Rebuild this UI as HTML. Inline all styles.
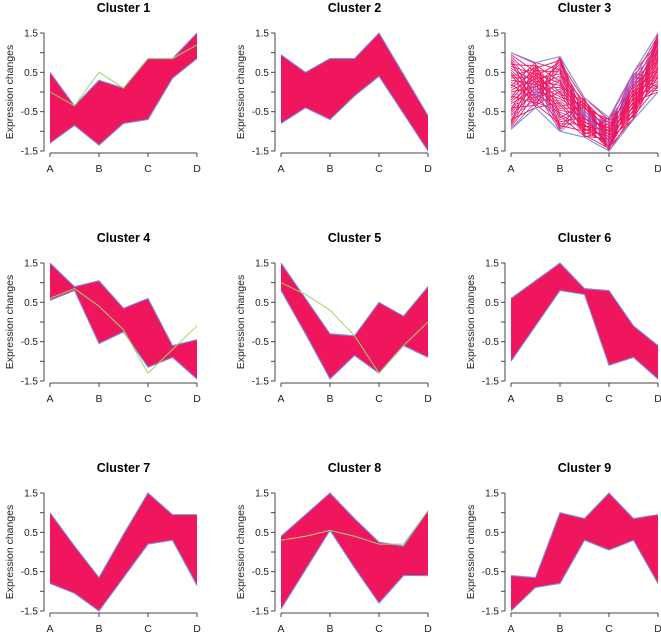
<!DOCTYPE html>
<html><head><meta charset="utf-8"><style>
html,body{margin:0;padding:0;background:#fff;}
svg{display:block;font-family:"Liberation Sans",sans-serif;}
</style></head><body>
<svg id="chart" width="661" height="635" viewBox="0 0 661 635"></svg>
<script>
const clusterNames=["Cluster 1","Cluster 2","Cluster 3","Cluster 4","Cluster 5","Cluster 6","Cluster 7","Cluster 8","Cluster 9"];
const categories=["A","B","C","D"];
const yTicks=[-1.5,-1,-0.5,0,0.5,1,1.5];
const yTickLabels=["-1.5","","-0.5","","0.5","","1.5"];
// envelopes at 7 positions (A, A-B, B, B-C, C, C-D, D)
const upper=[
[0.5,-0.35,0.3,0.1,0.85,0.85,1.5],
[0.95,0.5,0.85,0.85,1.5,0.45,-0.6],
[1.0,0.75,0.9,-0.15,-0.65,0.5,1.5],
[1.5,0.9,1.05,0.35,0.6,-0.6,-0.45],
[1.5,0.6,-0.3,-0.35,0.5,0.15,0.9],
[0.6,1.05,1.5,0.85,0.8,-0.1,-0.6],
[1.0,0.15,-0.65,0.45,1.5,0.95,0.95],
[0.4,0.95,1.5,0.85,0.25,0.15,1.05],
[-0.6,-0.65,1.0,0.85,1.5,0.85,0.95]];
const lower=[
[-1.3,-0.85,-1.35,-0.8,-0.7,0.35,0.85],
[-0.8,-0.4,-0.7,-0.1,0.4,-0.55,-1.5],
[-0.95,-0.4,-1.0,-1.15,-1.5,-0.7,0.0],
[0.55,0.8,-0.55,-0.25,-1.15,-0.9,-1.45],
[0.8,-0.3,-1.45,-0.85,-1.3,-0.6,-0.9],
[-1.0,-0.1,0.8,0.7,-1.1,-0.9,-1.45],
[-0.8,-1.05,-1.5,-0.65,0.2,0.3,-0.85],
[-1.45,-0.45,0.55,-0.4,-1.3,-0.6,-0.6],
[-1.5,-0.9,-0.8,0.3,0.05,0.3,-0.8]];
const outlierCluster=[0,3,4,7];
const outlierValues=[
[0.0,-0.35,0.5,0.1,0.85,0.85,1.2],
[0.6,0.85,0.4,-0.2,-1.3,-0.7,-0.1],
[1.0,0.7,0.3,-0.35,-1.3,-0.6,0.0],
[0.3,0.4,0.55,0.4,0.2,0.2,1.05]];

const svg=document.getElementById('chart');
const NS="http://www.w3.org/2000/svg";
function mk(t,a,p){const e=document.createElementNS(NS,t);for(const k in a)e.setAttribute(k,a[k]);(p||svg).appendChild(e);return e;}
const colX0=[50,281,511], W=147, rowY0=[33,263,493], H=118;
for(let c=0;c<9;c++){
  const col=c%3,row=Math.floor(c/3);
  const x0=colX0[col],yTop=rowY0[row];
  const g=mk('g',{});
  
  
  const xs=i=>x0+i*W/6;
  const ys=v=>yTop+(1.5-v)/3*H;
  const t=mk('text',{x:x0+W/2,y:yTop-21,'text-anchor':'middle','font-size':'12.5','font-weight':'bold',fill:'#000'},g);
  t.textContent=clusterNames[c];
  
  
  // axes
  const ax=x0-6;
  const ya=mk('line',{x1:ax,y1:ys(1.5),x2:ax,y2:ys(-1.5),stroke:'#444','stroke-width':1},g);
  
  
  yTicks.forEach((v,i)=>{
    mk('line',{x1:ax-4,y1:ys(v),x2:ax,y2:ys(v),stroke:'#444'},g);
    if(yTickLabels[i]){const l=mk('text',{x:ax-6,y:ys(v)+3.5,'text-anchor':'end','font-size':'10',fill:'#222'},g);l.textContent=yTickLabels[i];
      
      }
  });
  const yt=mk('text',{transform:`translate(${x0-37},${yTop+H/2}) rotate(-90)`,'text-anchor':'middle','font-size':'10.5',fill:'#222'},g);
  yt.textContent='Expression changes';
  
  
  const xb=ys(-1.5)+2;
  const xa=mk('line',{x1:x0,y1:xb,x2:x0+W,y2:xb,stroke:'#444'},g);
  
  
  categories.forEach((cat,i)=>{
    mk('line',{x1:xs(i*2),y1:xb,x2:xs(i*2),y2:xb+4,stroke:'#444'},g);
    const l=mk('text',{x:xs(i*2),y:xb+19,'text-anchor':'middle','font-size':'10.5',fill:'#222'},g);
    l.textContent=cat;
    
    
  });
  const U=upper[c],L=lower[c];
  if(c!==2){
    let d='';
    U.forEach((v,i)=>d+=(i?'L':'M')+xs(i)+','+ys(v));
    for(let i=6;i>=0;i--)d+='L'+xs(i)+','+ys(L[i]);
    const band=mk('path',{d:d+'Z',fill:'#f0165e',stroke:'none'},g);
    
    
  } else {
    for(let k=0;k<40;k++){
      const pts=U.map((v,i)=>{const f=((k*(i%2?7:(i===4?3:1))+i*5)%40)/39;return xs(i)+','+ys(L[i]+f*(v-L[i]));});
      const pl=mk('polyline',{points:pts.join(' '),fill:'none',stroke:k%6===0?'#9a5fd0':'#f0165e','stroke-width':0.9},g);
      
      
    }
  }
  [[U,'#7b8fe0'],[L,'#7b8fe0']].forEach(([arr,col2])=>{
    const pl=mk('polyline',{points:arr.map((v,i)=>xs(i)+','+ys(v)).join(' '),fill:'none',stroke:col2,'stroke-width':1.1},g);
    
    
  });
  const oi=outlierCluster.indexOf(c);
  if(oi>=0){
    const pl=mk('polyline',{points:outlierValues[oi].map((v,i)=>xs(i)+','+ys(v)).join(' '),fill:'none',stroke:'#9fd46a','stroke-width':1},g);
    
    
  }
}
</script>
</body></html>
